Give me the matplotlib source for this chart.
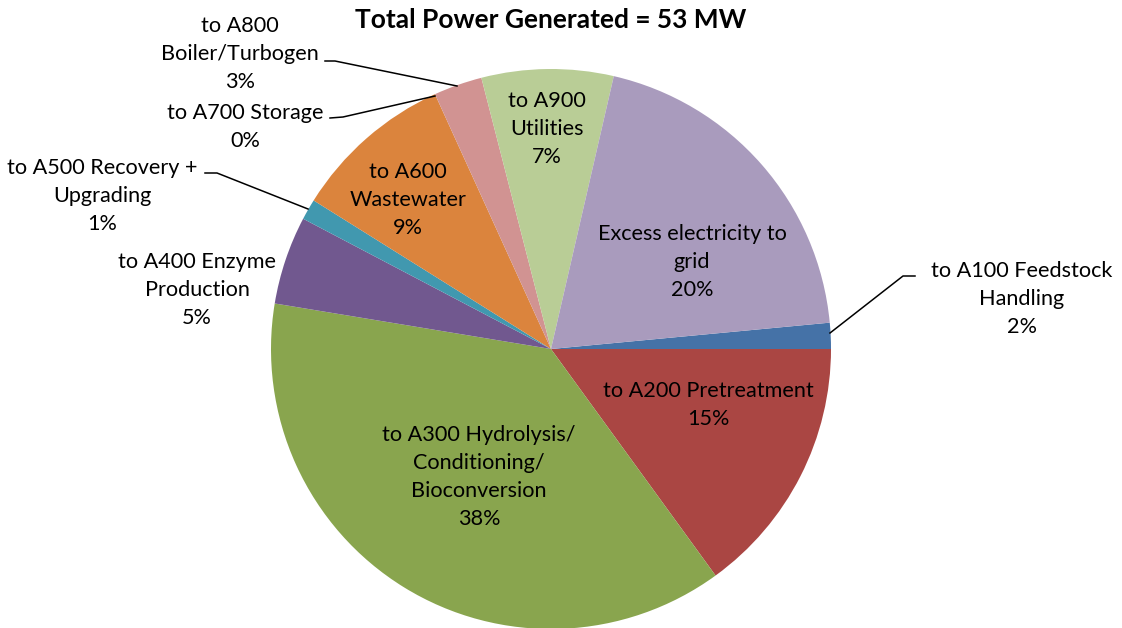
import matplotlib.pyplot as plt

# share of generated power, percent (total 53 MW)
areas = ["to A100 Feedstock\nHandling", "to A200 Pretreatment",
         "to A300 Hydrolysis/\nConditioning/\nBioconversion",
         "to A400 Enzyme\nProduction", "to A500 Recovery +\nUpgrading",
         "to A600\nWastewater", "to A700 Storage", "to A800\nBoiler/Turbogen",
         "to A900\nUtilities", "Excess electricity to\ngrid"]
shares = [1.5, 15.0, 37.6, 5.1, 1.2, 9.3, 0.0, 2.8, 7.6, 19.9]
pct_labels = ["2%", "15%", "38%", "5%", "1%", "9%", "0%", "3%", "7%", "20%"]
colors = ["#4572A7", "#AA4643", "#89A54E", "#71588F", "#4198AF",
          "#DB843D", "#93A9CF", "#D19392", "#B9CD96", "#A99BBD"]

plt.rcParams['font.family'] = ['Lato', 'DejaVu Sans']

W, H = 1122, 628
cx, cy, R = 551, 349, 280  # pie centre / radius in pixels


def px(x, y):
    # pixel position -> data units (pie radius = 1)
    return (x - cx) / R, (cy - y) / R


fig = plt.figure(figsize=(W / 100, H / 100), dpi=100)
ax = fig.add_axes([0, 0, 1, 1])

start = 360 * shares[0] / sum(shares)
ax.pie(shares, colors=colors, startangle=start, counterclock=False,
       radius=1, wedgeprops={"linewidth": 0})
ax.set_xlim(-cx / R, (W - cx) / R)
ax.set_ylim(-(H - cy) / R, cy / R)
ax.set_aspect('equal')
ax.axis('off')

# label centres in pixels
label_pos = [(1022, 299), (708, 405), (479, 477), (197, 290), (102, 196),
             (408, 200), (245, 127), (240, 54), (547, 129), (692, 262)]
for name, pct, (lx, ly) in zip(areas, pct_labels, label_pos):
    x, y = px(lx, ly)
    ax.text(x, y, name + "\n" + pct, ha='center', va='center',
            fontsize=15.6, linespacing=1.5, color='black')

# leader lines for the outside labels
leaders = [
    [(915, 276), (903, 276), (830, 333)],
    [(205, 173), (217, 173), (308, 209)],
    [(330, 118), (343, 117), (435, 96)],
    [(325, 61), (335, 61), (457, 86)],
]
for pts in leaders:
    xs, ys = zip(*[px(a, b) for a, b in pts])
    ax.plot(xs, ys, color='black', lw=1.1)

fig.text(551 / W, 1 - 20 / H, "Total Power Generated = 53 MW",
         ha='center', va='center', fontsize=19, fontweight='bold')

fig.savefig("out.png", dpi=100)
